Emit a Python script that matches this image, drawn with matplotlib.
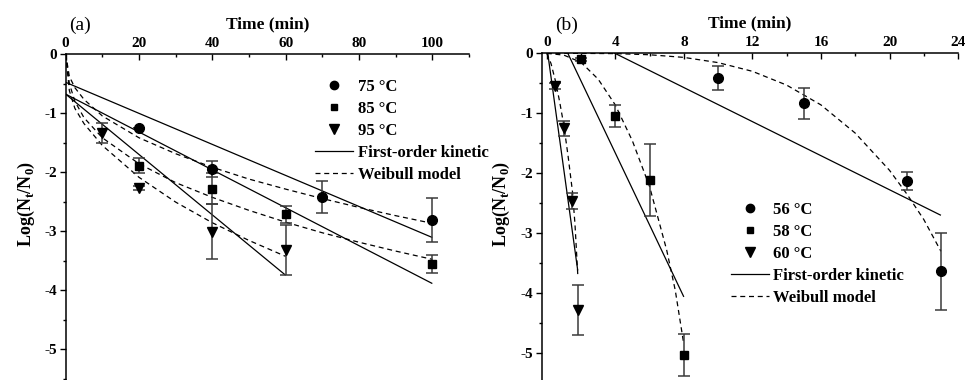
import numpy as np
import matplotlib
matplotlib.use('Agg')
import matplotlib.pyplot as plt
from matplotlib.lines import Line2D
from matplotlib.ticker import MultipleLocator, FuncFormatter

plt.rcParams['font.family'] = ['Liberation Serif', 'DejaVu Serif']
plt.rcParams['mathtext.fontset'] = 'custom'
plt.rcParams['mathtext.rm'] = 'Liberation Serif'
plt.rcParams['mathtext.bf'] = 'Liberation Serif:bold'
plt.rcParams['axes.unicode_minus'] = False

# ---------------- panel (a) data ----------------
a_labels = ['75 \u00b0C', '85 \u00b0C', '95 \u00b0C']
a_t = [[20, 40, 70, 100], [20, 40, 60, 100], [10, 20, 40, 60]]
a_y = [[-1.26, -1.95, -2.43, -2.81],
       [-1.89, -2.28, -2.72, -3.56],
       [-1.34, -2.27, -3.01, -3.32]]
a_err = [[0.0, 0.13, 0.27, 0.37],
         [0.12, 0.26, 0.15, 0.16],
         [0.17, 0.03, 0.46, 0.43]]
# first-order kinetic lines (end points)
a_fo_t = [[0, 100], [0, 100], [0, 60]]
a_fo_y = [[-0.48, -3.11], [-0.68, -3.89], [-0.68, -3.75]]
# Weibull curves
a_wb_t = [[0, 1, 2.5, 5, 10, 20, 30, 40, 50, 60, 70, 80, 90, 100],
          [0, 1, 2.5, 5, 10, 20, 30, 40, 50, 60, 70, 80, 90, 100],
          [0, 1, 2.5, 5, 10, 20, 30, 40, 50, 60]]
a_wb_y = [[0, -0.38, -0.57, -0.77, -1.05, -1.42, -1.69, -1.92, -2.12, -2.29, -2.45, -2.60, -2.74, -2.87],
          [0, -0.50, -0.80, -1.08, -1.42, -1.86, -2.18, -2.43, -2.65, -2.85, -3.03, -3.19, -3.34, -3.48],
          [0, -0.62, -0.92, -1.18, -1.55, -2.09, -2.51, -2.86, -3.16, -3.43]]

# ---------------- panel (b) data ----------------
b_labels = ['56 \u00b0C', '58 \u00b0C', '60 \u00b0C']
b_t = [[10, 15, 21, 23], [2, 4, 6, 8], [0.5, 1.0, 1.5, 1.8]]
b_y = [[-0.41, -0.83, -2.12, -3.63],
       [-0.10, -1.04, -2.11, -5.02],
       [-0.54, -1.25, -2.46, -4.28]]
b_err = [[0.20, 0.26, 0.15, 0.64],
         [0.03, 0.18, 0.60, 0.35],
         [0.05, 0.12, 0.13, 0.42]]
b_fo_t = [[0, 23], [0, 8], [0, 1.81]]
b_fo_y = [[0.565, -2.70], [0.739, -4.06], [0.124, -3.62]]
b_wb_t = [[0, 2, 4, 6, 8, 10, 12, 14, 16, 18, 20, 21, 22, 23],
          [0, 1, 2, 3, 4, 5, 6, 7, 7.5, 8],
          [0, 0.25, 0.5, 0.75, 1.0, 1.25, 1.5, 1.65, 1.81]]
b_wb_y = [[0, -0.001, -0.005, -0.024, -0.068, -0.155, -0.30, -0.53, -0.86, -1.33, -1.95, -2.34, -2.77, -3.30],
          [0, -0.03, -0.15, -0.43, -0.86, -1.46, -2.22, -3.28, -3.95, -4.85],
          [0, -0.17, -0.45, -0.80, -1.20, -1.72, -2.30, -2.85, -3.68]]

markers = ['o', 's', 'v']
msizes = [7, 6, 7.5]

fig = plt.figure(figsize=(9.7, 3.8), dpi=100)
axA = fig.add_axes([0.0677, 0.0, 0.4158, 0.8579])
axB = fig.add_axes([0.5585, 0.0, 0.4292, 0.8597])


def style_axis(ax, xlim, ylim, xmaj, xmin):
	ax.set_xlim(*xlim)
	ax.set_ylim(*ylim)
	ax.spines['right'].set_visible(False)
	ax.spines['bottom'].set_visible(False)
	ax.spines['left'].set_linewidth(1.1)
	ax.spines['top'].set_linewidth(1.1)
	ax.xaxis.tick_top()
	ax.xaxis.set_major_locator(MultipleLocator(xmaj))
	ax.xaxis.set_minor_locator(MultipleLocator(xmin))
	ax.yaxis.set_major_locator(MultipleLocator(1))
	ax.yaxis.set_minor_locator(MultipleLocator(0.5))
	ax.tick_params(axis='x', which='both', direction='in', top=True, bottom=False,
	               labeltop=True, labelbottom=False, pad=3, width=1.0)
	ax.tick_params(axis='x', which='major', length=4)
	ax.tick_params(axis='x', which='minor', length=2.5)
	ax.tick_params(axis='y', which='both', direction='out', width=1.0, pad=2)
	ax.tick_params(axis='y', which='major', length=4)
	ax.tick_params(axis='y', which='minor', length=2.5)
	ax.yaxis.set_major_formatter(FuncFormatter(lambda v, p: '%d' % round(v)))
	ax.xaxis.set_major_formatter(FuncFormatter(lambda v, p: '%d' % round(v)))
	for lab in ax.get_xticklabels() + ax.get_yticklabels():
		lab.set_fontweight('bold')
		lab.set_fontsize(11)
	ax.xaxis.set_label_position('top')
	ax.set_xlabel('Time (min)', fontsize=12.5, fontweight='bold')


def draw_panel(ax, t, y, err, fo_t, fo_y, wb_t, wb_y):
	for i in range(3):
		ax.plot(fo_t[i], fo_y[i], color='black', lw=0.9, solid_capstyle='butt')
		ax.plot(wb_t[i], wb_y[i], color='black', lw=0.9, linestyle=(0, (4, 3)))
		ax.errorbar(t[i], y[i], yerr=err[i], fmt=markers[i], color='black', ms=msizes[i],
		            ecolor='#3a3a3a', elinewidth=1.1, capsize=4, capthick=1.1, zorder=4,
		            clip_on=False)


def add_legend(ax, labels, anchor):
	handles = []
	for i in range(3):
		handles.append(Line2D([], [], marker=markers[i], color='black', linestyle='none',
		                      ms=msizes[i] - 1))
	handles.append(Line2D([], [], color='black', lw=0.9))
	handles.append(Line2D([], [], color='black', lw=0.9, linestyle=(0, (4, 3))))
	ax.legend(handles, labels + ['First-order kinetic', 'Weibull model'],
	          loc='upper left', bbox_to_anchor=anchor, bbox_transform=fig.transFigure,
	          frameon=False, borderpad=0, borderaxespad=0, handlelength=2.3,
	          handletextpad=0.25, labelspacing=0.36,
	          prop={'family': 'Liberation Serif', 'weight': 'bold', 'size': 12})


style_axis(axA, (0, 110), (-5.525, 0), 20, 10)
draw_panel(axA, a_t, a_y, a_err, a_fo_t, a_fo_y, a_wb_t, a_wb_y)
add_legend(axA, a_labels, (315 / 970, 1 - 79 / 380))
axA.xaxis.set_label_coords(0.5, 1.08)
axA.set_ylabel(r'Log(N$_{\mathbf{t}}$/N$_{\mathbf{0}}$)', fontsize=13, fontweight='bold')
axA.yaxis.set_label_coords(-0.072, 0.54)

style_axis(axB, (-0.29, 24.0), (-5.445, 0), 4, 2)
draw_panel(axB, b_t, b_y, b_err, b_fo_t, b_fo_y, b_wb_t, b_wb_y)
add_legend(axB, b_labels, (731 / 970, 1 - 202 / 380))
axB.xaxis.set_label_coords(0.5, 1.08)
axB.set_ylabel(r'Log(N$_{\mathbf{t}}$/N$_{\mathbf{0}}$)', fontsize=13, fontweight='bold')
axB.yaxis.set_label_coords(-0.072, 0.54)

fig.text(80 / 970, 1 - 25 / 380, '(a)', fontsize=14, ha='center', va='center')
fig.text(567 / 970, 1 - 25 / 380, '(b)', fontsize=14, ha='center', va='center')

fig.savefig('out.png', dpi=100)
